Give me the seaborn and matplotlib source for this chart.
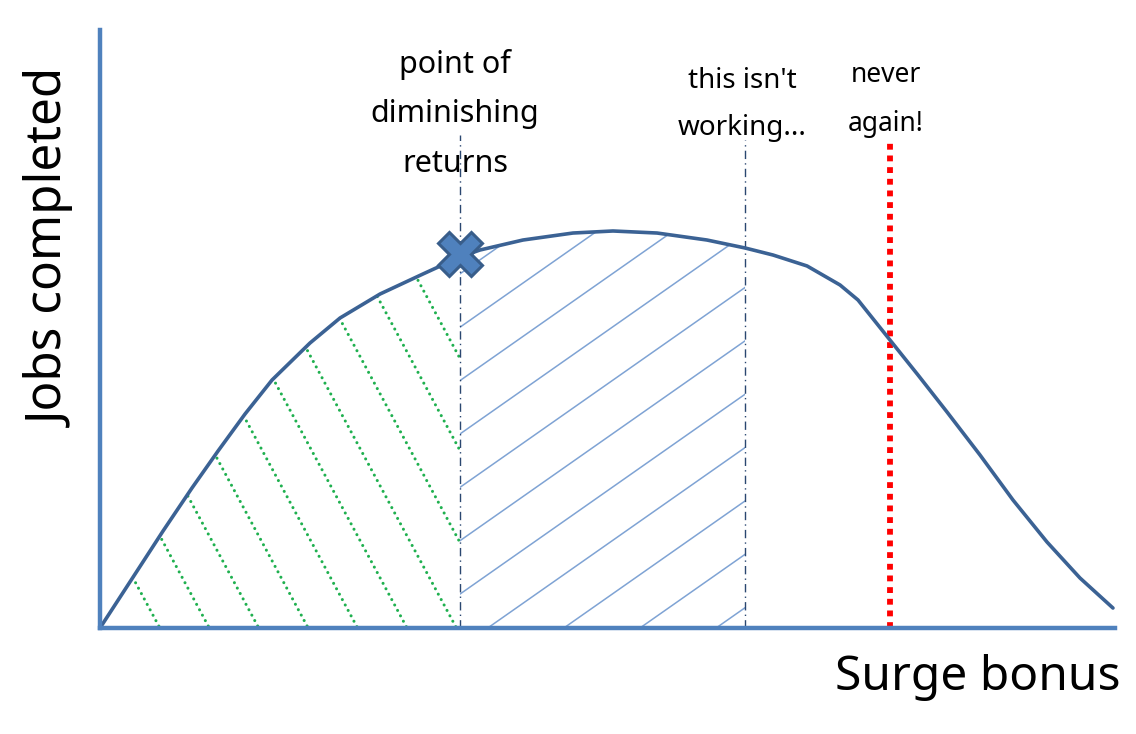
import numpy as np
import pandas as pd
import seaborn as sns
from matplotlib import pyplot as plt
from matplotlib import patheffects as pe

# curve (surge bonus 0..10, jobs completed 0..100)
bonus = [0.0, 0.365, 0.621, 0.906, 1.163, 1.429, 1.695, 2.069, 2.365, 2.759,
         3.182, 3.547, 3.744, 4.167, 4.660, 5.054, 5.488, 5.980, 6.355, 6.631,
         6.966, 7.291, 7.468, 7.783, 8.059, 8.345, 8.670, 8.995, 9.330, 9.655,
         9.980]
jobs = [0.0, 9.53, 16.22, 23.41, 29.60, 35.79, 41.47, 47.66, 51.84, 55.85,
        59.20, 62.04, 63.21, 64.88, 66.05, 66.39, 66.05, 64.88, 63.55, 62.37,
        60.54, 57.36, 54.85, 48.16, 42.31, 36.12, 28.93, 21.40, 14.38, 8.36,
        3.34]

diminishing_x = 3.55
not_working_x = 6.35
never_again_x = 7.78
marker_y = 62.5

labels = {
    "diminishing": "point of\ndiminishing\nreturns",
    "not_working": "this isn't\nworking...",
    "never": "never\nagain!",
}

df = pd.DataFrame({"bonus": bonus, "jobs": jobs})

sns.set_style("white")
plt.rcParams["font.family"] = ["Noto Sans", "DejaVu Sans"]

fig = plt.figure(figsize=(11.36, 7.34), dpi=100)
ax = fig.add_axes([100 / 1136, 106 / 734, 1015 / 1136, 598 / 734])
ax.set_xlim(0, 10)
ax.set_ylim(0, 100)

axis_blue = "#4F81BD"
curve_blue = "#3B6294"

# hatched regions, clipped to the area under the curve
green_area = ax.fill_between(df.bonus, df.jobs, where=df.bonus <= diminishing_x + 0.01,
                             color="none", lw=0)
blue_area = ax.fill_between(df.bonus, df.jobs,
                            where=(df.bonus >= diminishing_x - 0.01) & (df.bonus <= not_working_x + 0.01),
                            color="none", lw=0)
green_clip = green_area.get_paths()[0]
blue_clip = blue_area.get_paths()[0]

green_slope = -31.6
for x0 in np.arange(0.59, 6.5, 0.487):
    xs = np.array([x0 - 110 / -green_slope, x0])
    ln, = ax.plot(xs, green_slope * (xs - x0), color="#1FB04F", lw=2.2,
                  linestyle=(0, (0.01, 2.0)), dash_capstyle="round")
    ln.set_clip_path(green_clip, transform=ax.transData)

blue_slope = 11.9
for x0 in np.arange(-0.68 - 0.75 * 8, 6.5, 0.75):
    xs = np.array([x0, x0 + 110 / blue_slope])
    ln, = ax.plot(xs, blue_slope * (xs - x0), color="#7FA3D4", lw=1.1)
    ln.set_clip_path(blue_clip, transform=ax.transData)

# vertical guide lines
ax.vlines(diminishing_x, 0, 82.4, color="#2A4770", lw=1, linestyle=(0, (6, 3, 1, 3)))
ax.vlines(not_working_x, 0, 81.6, color="#2A4770", lw=1, linestyle=(0, (6, 3, 1, 3)))
ax.vlines(never_again_x, 0, 81.6, color="#FF0000", lw=4.2, linestyle=(0, (1, 1)))

sns.lineplot(data=df, x="bonus", y="jobs", ax=ax, color=curve_blue, lw=2.6)
ax.plot([diminishing_x], [marker_y], marker="X", markersize=32,
        markerfacecolor=axis_blue, markeredgecolor="#385D8A", markeredgewidth=2.2, zorder=5)

# axes look
sns.despine(ax=ax)
for side in ["left", "bottom"]:
    ax.spines[side].set_color(axis_blue)
    ax.spines[side].set_linewidth(3.2)
    ax.spines[side].set_path_effects([pe.SimplePatchShadow(offset=(1.5, -2), shadow_rgbFace="#AAAAAA", alpha=0.6),
                                      pe.Normal()])
ax.set_xticks([])
ax.set_yticks([])
ax.set_xlabel("")
ax.set_ylabel("")

txt = dict(ha="center", va="center", color="black", clip_on=False)
ax.text(3.5, 86.0, labels["diminishing"], fontsize=22, linespacing=1.84, **txt)
ax.text(6.33, 87.6, labels["not_working"], fontsize=20, linespacing=1.9, **txt)
ax.text(7.74, 88.4, labels["never"], fontsize=19, linespacing=2.0, **txt)
ax.text(10.05, -8.2, "Surge bonus", fontsize=34.5, ha="right", va="center", color="black",
        clip_on=False)
ax.text(-0.47, 63.5, "Jobs completed", fontsize=35.5, rotation=90, ha="center", va="center",
        color="black", clip_on=False)

fig.savefig("out.png", dpi=100)
